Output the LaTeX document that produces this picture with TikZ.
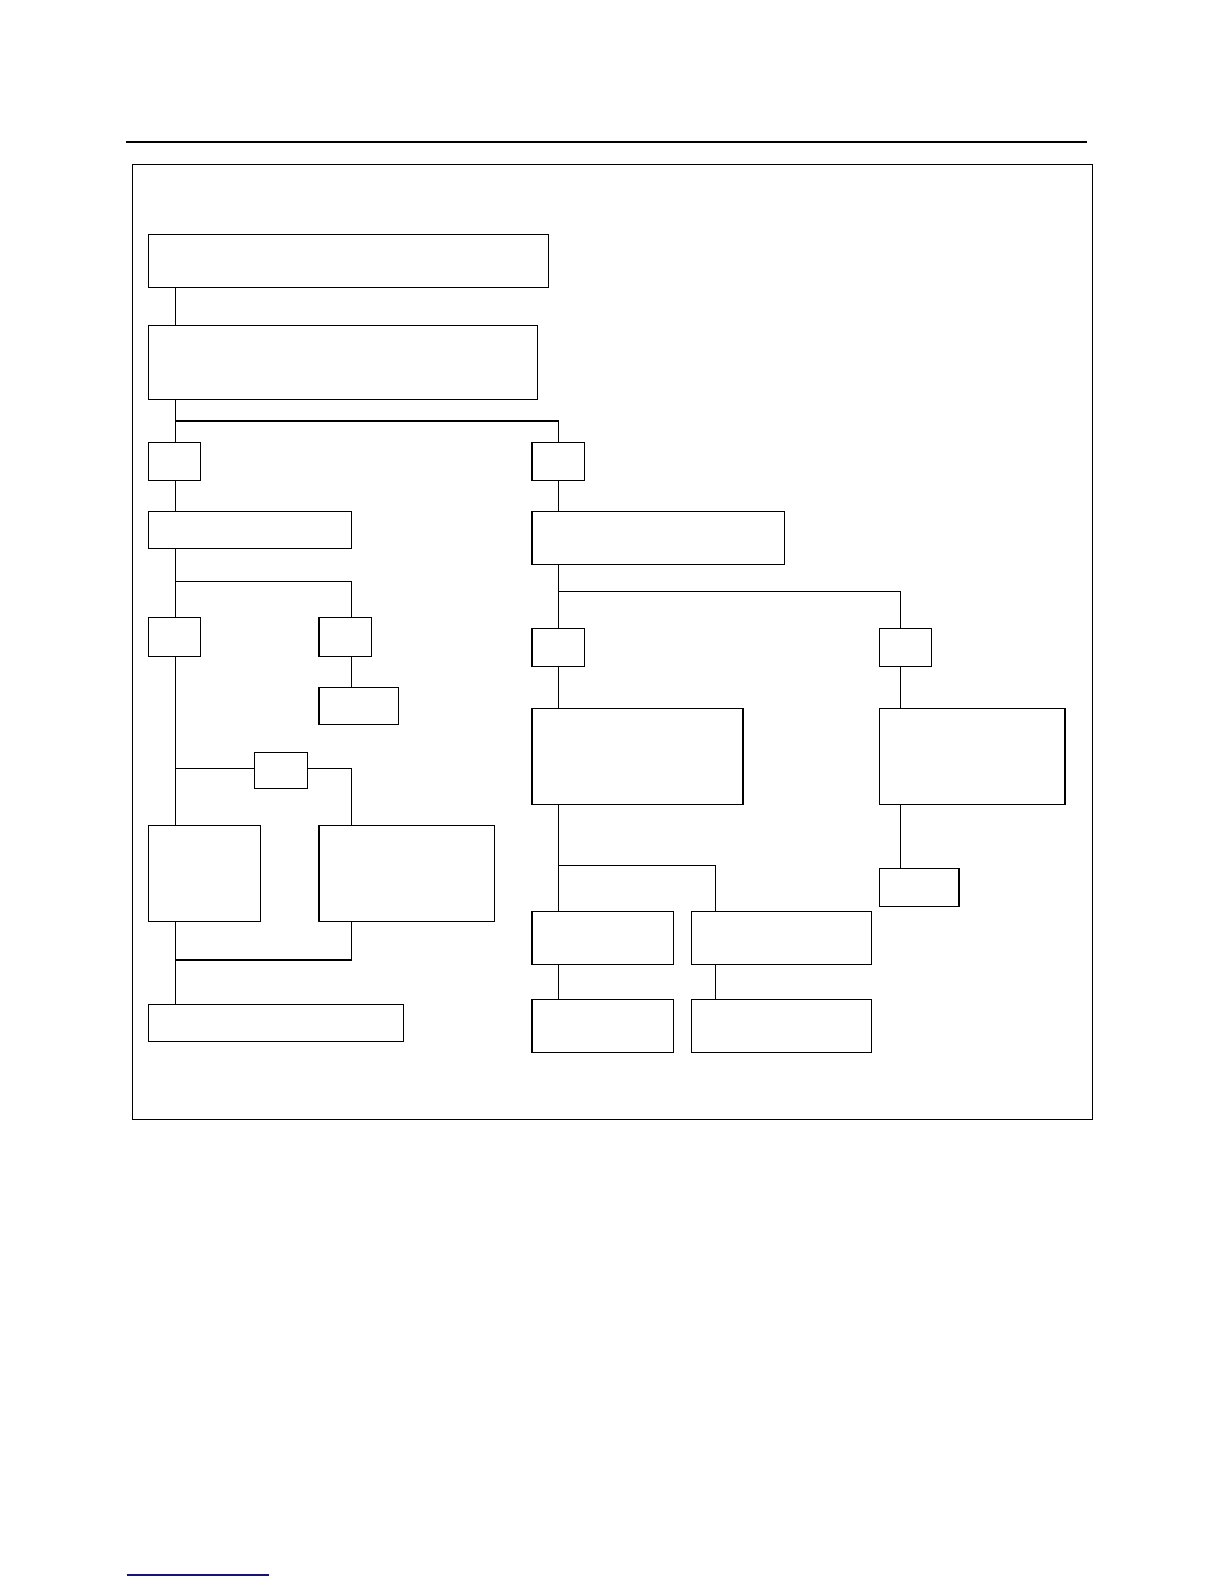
\documentclass[tikz,border=0pt]{standalone}
\newcommand{\bxat}[5]{\node[bx,minimum width={#4*1.0095pt},minimum height={#5*1.0095pt}] (#1) at (#2,#3) {};}
\begin{document}
\begin{tikzpicture}[x=1.0095pt,y=-1.0095pt,
  bx/.style={draw,line width=1.1pt,inner sep=0pt,outer sep=0pt,anchor=north west},
  cn/.style={line width=1.1pt}]
\useasboundingbox (0,0) rectangle (1212.5,1569.1);
\fill[white] (0,0) rectangle (1212.5,1569.1);
% top rule and frame
\draw[line width=1.8pt] (125,141) -- (1077,141);
\draw[line width=1.1pt] (131,163) rectangle (1082,1109);
\draw[line width=1.1pt,color={rgb,255:red,20;green,20;blue,120}] (125.8,1560.2) -- (266.5,1560.2);
% boxes (name, x, y, w, h)
\bxat{A}{147}{232}{396}{53}
\bxat{B}{147}{322}{385}{74}
\bxat{C}{147}{438}{52}{38}
\bxat{D}{527}{438}{52}{38}
\bxat{E}{147}{507}{201}{36}
\bxat{F}{147}{612}{52}{38}
\bxat{G}{316}{612}{52}{38}
\bxat{H}{316}{681}{79}{37}
\bxat{J}{252}{745}{53}{36}
\bxat{I}{147}{818}{111}{95}
\bxat{K}{316}{818}{174}{95}
\bxat{L}{147}{995}{253}{37}
\bxat{M}{527}{507}{250}{52}
\bxat{N}{527}{623}{52}{37}
\bxat{O}{871}{623}{52}{37}
\bxat{P}{527}{702}{209}{95}
\bxat{Q}{871}{702}{184}{95}
\bxat{R}{871}{860}{79}{38}
\bxat{S}{527}{903}{140}{52}
\bxat{T}{685}{903}{178}{52}
\bxat{U}{527}{990}{140}{53}
\bxat{V}{685}{990}{178}{53}
% columns and junctions
\coordinate (c1) at (174,0);
\coordinate (c2) at (348,0);
\coordinate (c3) at (553,0);
\coordinate (c4) at (892,0);
\coordinate (c5) at (709,0);
\coordinate (j1) at (174,417);
\coordinate (j2) at (174,576);
\coordinate (j3) at (174,761);
\coordinate (j4) at (174,951);
\coordinate (j5) at (553,586);
\coordinate (j6) at (553,857);
% left tree
\draw[cn] (A.south -| c1) -- (B.north -| c1);
\draw[cn] (B.south -| c1) -- (C.north -| c1);
\draw[cn] (j1) -| (D.north -| c3);
\draw[cn] (C.south -| c1) -- (E.north -| c1);
\draw[cn] (E.south -| c1) -- (F.north -| c1);
\draw[cn] (j2) -| (G.north -| c2);
\draw[cn] (G.south -| c2) -- (H.north -| c2);
\draw[cn] (F.south -| c1) -- (I.north -| c1);
\draw[cn] (j3) -- (j3 -| J.west);
\draw[cn] (j3 -| J.east) -| (K.north -| c2);
\draw[cn] (I.south -| c1) -- (L.north -| c1);
\draw[cn] (K.south -| c2) |- (j4);
% right tree
\draw[cn] (D.south -| c3) -- (M.north -| c3);
\draw[cn] (M.south -| c3) -- (N.north -| c3);
\draw[cn] (j5) -| (O.north -| c4);
\draw[cn] (N.south -| c3) -- (P.north -| c3);
\draw[cn] (O.south -| c4) -- (Q.north -| c4);
\draw[cn] (Q.south -| c4) -- (R.north -| c4);
\draw[cn] (P.south -| c3) -- (S.north -| c3);
\draw[cn] (j6) -| (T.north -| c5);
\draw[cn] (S.south -| c3) -- (U.north -| c3);
\draw[cn] (T.south -| c5) -- (V.north -| c5);
\end{tikzpicture}
\end{document}
